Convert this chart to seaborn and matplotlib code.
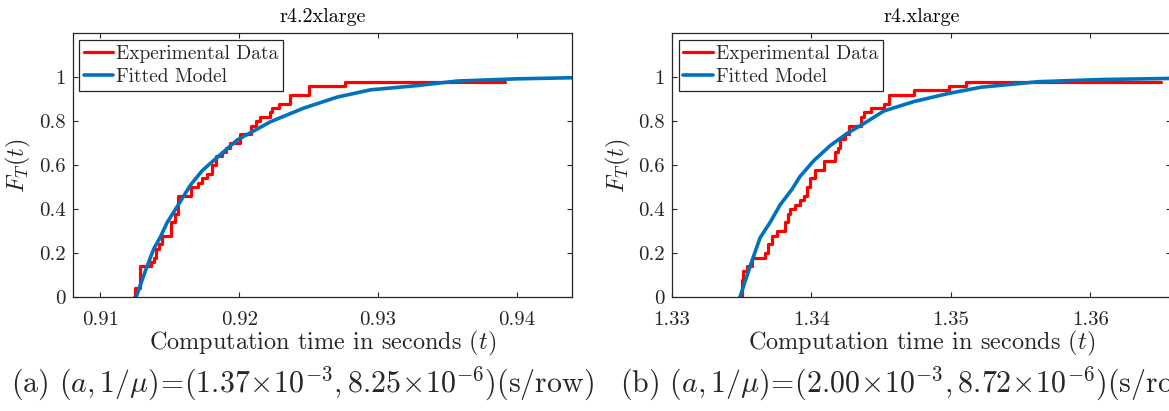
"""Empirical vs fitted CDF of computation time on two EC2 instance types."""

import matplotlib

matplotlib.use("Agg")

import matplotlib.pyplot as plt
import seaborn as sns

# Panel (a): r4.2xlarge
a_title = "r4.2xlarge"
a_caption = r"(a) $(a,1/\mu)\!=\!(1.37\!\times\!10^{-3},8.25\!\times\!10^{-6})$(s/row)"
a_xlim = (0.908, 0.944)
a_xticks = [0.91, 0.92, 0.93, 0.94]
a_xticklabels = ["0.91", "0.92", "0.93", "0.94"]
a_exp_time = [0.91244, 0.91250, 0.91285, 0.91363, 0.91387, 0.91401, 0.91423, 0.91444,
              0.91511, 0.91538, 0.91561, 0.91650, 0.91700, 0.91735, 0.91767, 0.91803,
              0.91832, 0.91880, 0.91905, 0.91932, 0.92007, 0.92082, 0.92120, 0.92151,
              0.92226, 0.92240, 0.92286, 0.92365, 0.92502, 0.92766, 0.93918]
a_exp_cdf = [0.00, 0.04, 0.14, 0.16, 0.18, 0.22, 0.24, 0.28,
             0.34, 0.38, 0.46, 0.50, 0.52, 0.54, 0.56, 0.60,
             0.64, 0.66, 0.68, 0.70, 0.74, 0.78, 0.80, 0.82,
             0.84, 0.86, 0.88, 0.92, 0.96, 0.98, 0.98]
a_fit_time = [0.91257, 0.91324, 0.91384, 0.91433, 0.91481, 0.91541, 0.91649, 0.91733,
              0.91793, 0.91986, 0.92226, 0.92466, 0.92707, 0.92947, 0.93278, 0.93572,
              0.94000, 0.94403]
a_fit_cdf = [0.000, 0.120, 0.220, 0.275, 0.340, 0.400, 0.510, 0.575,
             0.609, 0.715, 0.798, 0.860, 0.910, 0.943, 0.962, 0.983,
             0.993, 0.998]

# Panel (b): r4.xlarge
b_title = "r4.xlarge"
b_caption = r"(b) $(a,1/\mu)\!=\!(2.00\!\times\!10^{-3},8.72\!\times\!10^{-6})$(s/row)"
b_xlim = (1.33, 1.3658)
b_xticks = [1.33, 1.34, 1.35, 1.36]
b_xticklabels = ["1.33", "1.34", "1.35", "1.36"]
b_exp_time = [1.33482, 1.33500, 1.33510, 1.33540, 1.33571, 1.33667, 1.33690, 1.33720,
              1.33751, 1.33811, 1.33830, 1.33847, 1.33880, 1.33920, 1.33950, 1.33968,
              1.33990, 1.34028, 1.34087, 1.34172, 1.34190, 1.34208, 1.34240, 1.34267,
              1.34352, 1.34380, 1.34424, 1.34520, 1.34556, 1.34736, 1.34988, 1.35108,
              1.36503]
b_exp_cdf = [0.00, 0.08, 0.12, 0.14, 0.18, 0.20, 0.24, 0.28,
             0.30, 0.34, 0.38, 0.40, 0.42, 0.44, 0.46, 0.50,
             0.54, 0.58, 0.62, 0.66, 0.68, 0.72, 0.74, 0.78,
             0.82, 0.84, 0.86, 0.88, 0.92, 0.94, 0.96, 0.98,
             0.98]
b_fit_time = [1.33487, 1.33559, 1.33631, 1.33703, 1.33775, 1.33859, 1.33919, 1.34015,
              1.34135, 1.34256, 1.34376, 1.34520, 1.34736, 1.34986, 1.35217, 1.35626,
              1.36082, 1.36587]
b_fit_cdf = [0.000, 0.139, 0.270, 0.340, 0.420, 0.490, 0.550, 0.620,
             0.690, 0.745, 0.790, 0.847, 0.890, 0.927, 0.955, 0.980,
             0.990, 0.995]

y_ticks = [0, 0.2, 0.4, 0.6, 0.8, 1.0]
y_ticklabels = ["0", "0.2", "0.4", "0.6", "0.8", "1"]

EXP_COLOR = "#ff0000"
FIT_COLOR = "#0072bd"
BOX_COLOR = "#262626"


def draw_panel(ax, title, xlim, xticks, xticklabels, exp_time, exp_cdf, fit_time, fit_cdf):
    """Draw one CDF comparison panel in a MATLAB-like boxed style."""
    sns.lineplot(x=exp_time, y=exp_cdf, ax=ax, color=EXP_COLOR, linewidth=2.3,
                 drawstyle="steps-post", estimator=None, sort=False,
                 label="Experimental Data")
    sns.lineplot(x=fit_time, y=fit_cdf, ax=ax, color=FIT_COLOR, linewidth=2.6,
                 estimator=None, sort=False, label="Fitted Model")
    ax.set_xlim(*xlim)
    ax.set_ylim(0, 1.2)
    ax.set_xticks(xticks)
    ax.set_xticklabels(xticklabels)
    ax.set_yticks(y_ticks)
    ax.set_yticklabels(y_ticklabels)
    ax.tick_params(direction="in", top=True, right=True, length=3.5, width=0.8,
                   color=BOX_COLOR, labelsize=15, labelcolor=BOX_COLOR)
    ax.tick_params(axis="x", pad=10)
    ax.tick_params(axis="y", pad=5)
    for spine in ax.spines.values():
        spine.set_visible(True)
        spine.set_color(BOX_COLOR)
        spine.set_linewidth(0.9)
    ax.set_title(title, fontsize=14.5, pad=8, color="black")
    ax.set_xlabel(r"Computation time in seconds $(t)$", fontsize=17.5, labelpad=0)
    ax.set_ylabel(r"$F_T(t)$", fontsize=17.5, labelpad=4)
    leg = ax.legend(loc="upper left", bbox_to_anchor=(0.0132, 0.9746), borderaxespad=0,
                    fontsize=14, frameon=True, fancybox=False, framealpha=1,
                    borderpad=0.25, labelspacing=0.25, handlelength=1.5, handletextpad=0.15)
    leg.get_frame().set_edgecolor(BOX_COLOR)
    leg.get_frame().set_linewidth(0.9)
    ax.grid(False)


def main() -> None:
    sns.set_style("ticks")
    plt.rcParams["font.family"] = ["cmr10", "DejaVu Serif"]
    plt.rcParams["mathtext.fontset"] = "cm"
    plt.rcParams["axes.formatter.use_mathtext"] = True
    plt.rcParams["axes.unicode_minus"] = False

    fig = plt.figure(figsize=(11.69, 4.11), dpi=100)
    ax_a = fig.add_axes([72.7 / 1169, 113.7 / 411, 499.3 / 1169, 264 / 411])
    ax_b = fig.add_axes([672 / 1169, 113.7 / 411, 499.3 / 1169, 264 / 411])

    draw_panel(ax_a, a_title, a_xlim, a_xticks, a_xticklabels,
               a_exp_time, a_exp_cdf, a_fit_time, a_fit_cdf)
    draw_panel(ax_b, b_title, b_xlim, b_xticks, b_xticklabels,
               b_exp_time, b_exp_cdf, b_fit_time, b_fit_cdf)

    fig.text(302 / 1169, 1 - 384 / 411, a_caption, ha="center", va="center", fontsize=21.5)
    fig.text(912 / 1169, 1 - 384 / 411, b_caption, ha="center", va="center", fontsize=21.5)

    fig.savefig("out.png", dpi=100)
    plt.close(fig)


if __name__ == "__main__":
    main()
